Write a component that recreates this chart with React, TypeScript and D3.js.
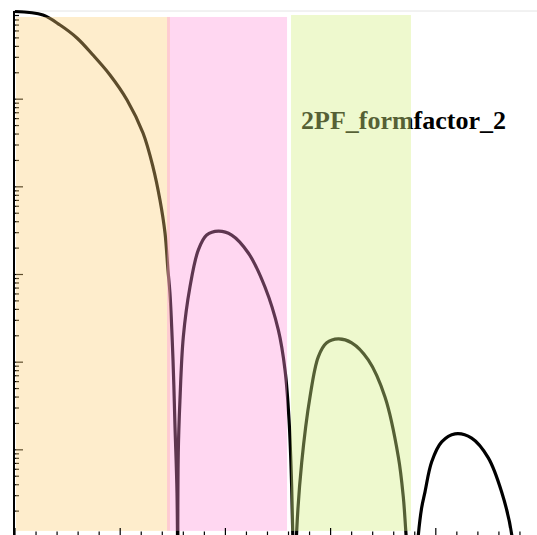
import React from "react";
import * as d3 from "d3";

// Form factor curve (q, intensity)
const qValues = [
  0, 0.266, 0.428, 0.589, 0.741, 0.903, 1.065, 1.217, 1.312, 1.378, 1.426, 1.454, 1.473, 1.502, 1.521, 1.54,
  1.548,
  1.552, 1.568, 1.6, 1.663, 1.742, 1.822, 1.933, 2.06, 2.218, 2.376, 2.503, 2.567, 2.605, 2.63,
  2.657,
  2.678, 2.725, 2.804, 2.883, 2.963, 3.073, 3.201, 3.358, 3.517, 3.644, 3.691, 3.714,
  3.774,
  3.834, 3.866, 3.897, 3.961, 4.056, 4.183, 4.341, 4.499, 4.626, 4.722,
  4.762,
];
const intensity = [
  1, 0.912, 0.701, 0.499, 0.319, 0.189, 0.098, 0.0411, 0.0168, 0.00708, 0.00297, 0.00112, 6.15e-4, 1.06e-4, 1.82e-5, 3.2e-6,
  1e-7,
  9.2e-6, 3.7e-5, 1.94e-4, 7.2e-4, 1.9e-3, 2.82e-3, 3.13e-3, 2.82e-3, 1.76e-3, 7.2e-4, 2.33e-4, 8.1e-5, 2.19e-5, 3.8e-6,
  1e-7,
  1.2e-6, 7.1e-6, 4.0e-5, 1.15e-4, 1.66e-4, 1.84e-4, 1.66e-4, 1.06e-4, 4.0e-5, 8.3e-6, 2.9e-6, 1.22e-6,
  1e-7,
  1.07e-6, 2.2e-6, 3.3e-6, 7.3e-6, 1.23e-5, 1.52e-5, 1.36e-5, 8.1e-6, 3.3e-6, 1.07e-6,
  1e-7,
];

// Highlighted bands (q range, intensity range)
const bandStart = [0.01, 1.445, 2.624];
const bandEnd = [1.473, 2.586, 3.764];
const bandTop = [0.866, 0.866, 0.912];
const bandBottom = [1.19e-6, 1.19e-6, 1.19e-6];
const bandColors = ["#fccf76", "#fe92d8", "#d4f084"];
const bandOpacity = [0.37, 0.37, 0.4];

const labelText = "2PF_formfactor_2";

const xTicks = d3.range(0, 5.01, 0.2).map((v) => Math.round(v * 10) / 10);
const yDecades = [0, -1, -2, -3, -4, -5, -6];

export default function App() {
  const W = 537;
  const H = 535;
  const xs = d3.scaleLinear().domain([0, 5]).range([15, 541]);
  const ys = d3.scaleLog().domain([1, 1e-6]).range([11.5, 537.5]);

  const pts = qValues.map((q, i) => [q, intensity[i]] as [number, number]);
  // split the curve into lobes at its zeros (deep minima)
  const lobes: [number, number][][] = [];
  let cur: [number, number][] = [];
  pts.forEach((p, i) => {
    cur.push(p);
    const isMin =
      i > 0 && i < pts.length - 1 && p[1] < pts[i - 1][1] && p[1] < pts[i + 1][1];
    if (isMin) {
      lobes.push(cur);
      cur = [p];
    }
  });
  if (cur.length > 1) lobes.push(cur);

  const line = d3
    .line<[number, number]>()
    .x((d) => xs(d[0]))
    .y((d) => ys(d[1]))
    .curve(d3.curveCatmullRom.alpha(0.5));

  const axisX = xs(0) - 1;

  const yTicks: { v: number; major: boolean }[] = [];
  yDecades.forEach((d) => {
    const base = Math.pow(10, d);
    yTicks.push({ v: base, major: true });
    if (d < 0) {
      for (let k = 2; k <= 9; k++) yTicks.push({ v: k * base, major: false });
    }
  });

  const bottomY = ys(1e-6);

  return (
    <svg
      width={W}
      height={H}
      style={{ position: "absolute", left: 0, top: 0, background: "#fff" }}
    >
      {/* top frame line */}
      <line x1={axisX - 1} x2={W} y1={11} y2={11} stroke="#e4e4e4" strokeWidth={1} />

      {/* curve */}
      {lobes.map((seg, i) => (
        <path
          key={"lobe" + i}
          d={line(seg) || ""}
          fill="none"
          stroke="#000"
          strokeWidth={3.2}
          strokeLinejoin="round"
        />
      ))}

      {/* label */}
      <text
        x={301}
        y={129}
        fontFamily="'Liberation Serif', 'Times New Roman', serif"
        fontWeight="bold"
        fontSize={26}
        fill="#000"
      >
        {labelText}
      </text>

      {/* left axis ticks */}
      {yTicks.map((t, i) => (
        <line
          key={"yt" + i}
          x1={axisX}
          x2={axisX + (t.major ? 9 : 5)}
          y1={ys(t.v)}
          y2={ys(t.v)}
          stroke="#000"
          strokeWidth={1.2}
        />
      ))}

      {/* bands */}
      {bandStart.map((s, i) => (
        <rect
          key={"b" + i}
          x={xs(s)}
          y={ys(bandTop[i])}
          width={xs(bandEnd[i]) - xs(s)}
          height={ys(bandBottom[i]) - ys(bandTop[i])}
          fill={bandColors[i]}
          fillOpacity={bandOpacity[i]}
        />
      ))}

      {/* left axis line */}
      <line x1={axisX} x2={axisX} y1={ys(1) - 0.5} y2={H} stroke="#000" strokeWidth={2} />

      {/* bottom axis ticks */}
      {xTicks.map((v, i) => {
        const major = Math.abs(v - Math.round(v)) < 1e-6;
        return (
          <line
            key={"xt" + i}
            x1={xs(v)}
            x2={xs(v)}
            y1={bottomY}
            y2={bottomY - (major ? 9.5 : 6)}
            stroke="#000"
            strokeWidth={1.2}
          />
        );
      })}
    </svg>
  );
}
